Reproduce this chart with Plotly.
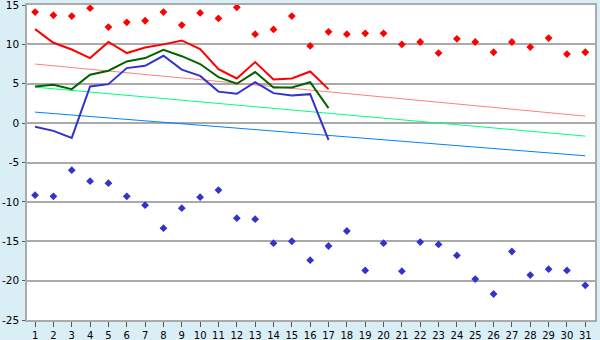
import plotly.graph_objects as go

days = list(range(1, 32))
record_max = [14.1, 13.7, 13.6, 14.6, 12.2, 12.8, 13.0, 14.1, 12.45, 14.0, 13.3, 14.7, 11.3, 11.9, 13.6, 9.8,
              11.6, 11.3, 11.4, 11.4, 10.0, 10.3, 8.9, 10.7, 10.3, 9.0, 10.3, 9.66, 10.8, 8.77, 9.0]
record_min = [-9.15, -9.3, -5.97, -7.37, -7.62, -9.3, -10.42, -13.34, -10.8, -9.4, -8.5, -12.07, -12.2, -15.25,
              -15.0, -17.4, -15.6, -13.7, -18.7, -15.25, -18.8, -15.1, -15.4, -16.8, -19.8, -21.7, -16.3,
              -19.3, -18.55, -18.7, -20.6]
obs_days = list(range(1, 18))
t_max = [11.94, 10.2, 9.35, 8.26, 10.3, 8.9, 9.6, 10.0, 10.5, 9.4, 6.86, 5.67, 7.75, 5.54, 5.67, 6.56, 4.32]
t_mean = [4.65, 4.87, 4.32, 6.14, 6.65, 7.83, 8.26, 9.31, 8.5, 7.5, 5.84, 5.0, 6.48, 4.52, 4.52, 5.2, 1.9]
t_min = [-0.47, -0.98, -1.87, 4.65, 4.95, 6.99, 7.28, 8.55, 6.8, 6.0, 4.0, 3.72, 5.2, 3.81, 3.5, 3.68, -2.12]
trend_days = [1, 31]
trend_max = [7.5, 0.89]
trend_mean = [4.57, -1.65]
trend_min = [1.4, -4.15]
y_ticks = [-25, -20, -15, -10, -5, 0, 5, 10, 15]
y_labels = ["-25", "-20", "-15", "-10", "-5", "0", "5", "10", "15"]

fig = go.Figure()
fig.add_trace(go.Scatter(x=trend_days, y=trend_max, mode="lines", line=dict(color="#ff8080", width=1)))
fig.add_trace(go.Scatter(x=trend_days, y=trend_mean, mode="lines", line=dict(color="#00ff80", width=1)))
fig.add_trace(go.Scatter(x=trend_days, y=trend_min, mode="lines", line=dict(color="#0080ff", width=1)))
fig.add_trace(go.Scatter(x=obs_days, y=t_max, mode="lines", line=dict(color="#ff0000", width=2)))
fig.add_trace(go.Scatter(x=obs_days, y=t_mean, mode="lines", line=dict(color="#006400", width=2)))
fig.add_trace(go.Scatter(x=obs_days, y=t_min, mode="lines", line=dict(color="#3333cc", width=2)))
fig.add_trace(go.Scatter(x=days, y=record_max, mode="markers",
                         marker=dict(symbol="diamond", size=6, color="#ff0000")))
fig.add_trace(go.Scatter(x=days, y=record_min, mode="markers",
                         marker=dict(symbol="diamond", size=6, color="#3333cc")))

fig.update_layout(
    width=600, height=340,
    margin=dict(l=27, r=5, t=5, b=20, autoexpand=False),
    paper_bgcolor="#daeef6",
    plot_bgcolor="#ffffff",
    showlegend=False,
    font=dict(family="DejaVu Sans", size=10, color="#000000"),
)
fig.update_xaxes(range=[0.56, 31.53], tickmode="array", tickvals=days, ticktext=[str(d) for d in days],
                 automargin=False,
                 showgrid=False, zeroline=False, showline=True, linecolor="#aaaaaa", linewidth=1.5,
                 mirror=True, ticks="outside", ticklen=5, tickcolor="#555555", tickwidth=1,
                 ticklabelstandoff=0, ticklabeloverflow="allow", tickfont=dict(size=10))
fig.update_yaxes(range=[-25, 15], tickmode="array", tickvals=y_ticks, ticktext=y_labels,
                 automargin=False,
                 showgrid=True, gridcolor="#aaaaaa", gridwidth=1.5, zeroline=False,
                 showline=True, linecolor="#aaaaaa", linewidth=1.5, mirror=True,
                 ticks="outside", ticklen=3, tickcolor="#555555", tickwidth=1,
                 ticklabelstandoff=1, ticklabeloverflow="allow", tickfont=dict(size=10.5))

fig.write_html("out.html")
